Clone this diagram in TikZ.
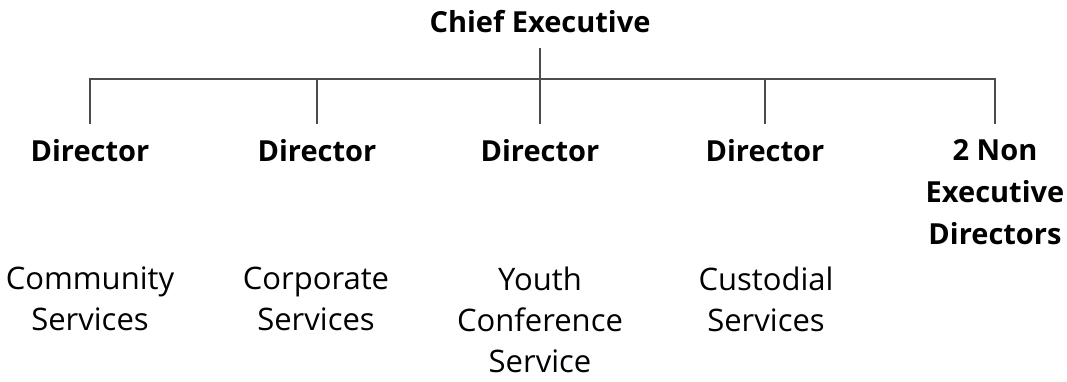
\documentclass[tikz,border=0pt]{standalone}
\usepackage{fontspec}
\setmainfont{Open Sans}
\tikzstyle{head} = [font=\fontsize{29}{42}\selectfont\bfseries, align=center, inner sep=0pt, outer ysep=15pt]
\tikzstyle{unit} = [font=\fontsize{31}{41}\selectfont, align=center, inner sep=0pt]
\tikzstyle{edge} = [line width=1.3pt, draw=black!70]
\begin{document}
\begin{tikzpicture}[x=1pt, y=-1pt]

\useasboundingbox (0,0) rectangle (1067,381);

\node (chief) [head, anchor=south] at (540,48) {Chief Executive};
\coordinate (bar) at (540,79);

\node (dir1) [head, anchor=north] at (90,124) {Director};
\node (dir2) [head, anchor=north] at (317,124) {Director};
\node (dir3) [head, anchor=north] at (540,124) {Director};
\node (dir4) [head, anchor=north] at (765,124) {Director};
\node (dir5) [head, anchor=north] at (995,124) {2 Non\\Executive\\Directors};

\node (svc1) [unit, anchor=north] at (90,267) {Community\\Services};
\node (svc2) [unit, anchor=north] at (316,267) {Corporate\\Services};
\node (svc3) [unit, anchor=north] at (540,267) {Youth\\Conference\\Service};
\node (svc4) [unit, anchor=north] at (766,267) {Custodial\\Services};

\draw [edge] (chief.south) -- (dir3.north);
\draw [edge] (dir1.north) |- (bar) -| (dir5.north);
\draw [edge] (dir2.north) -- (dir2.north |- bar);
\draw [edge] (dir4.north) -- (dir4.north |- bar);

\end{tikzpicture}
\end{document}
